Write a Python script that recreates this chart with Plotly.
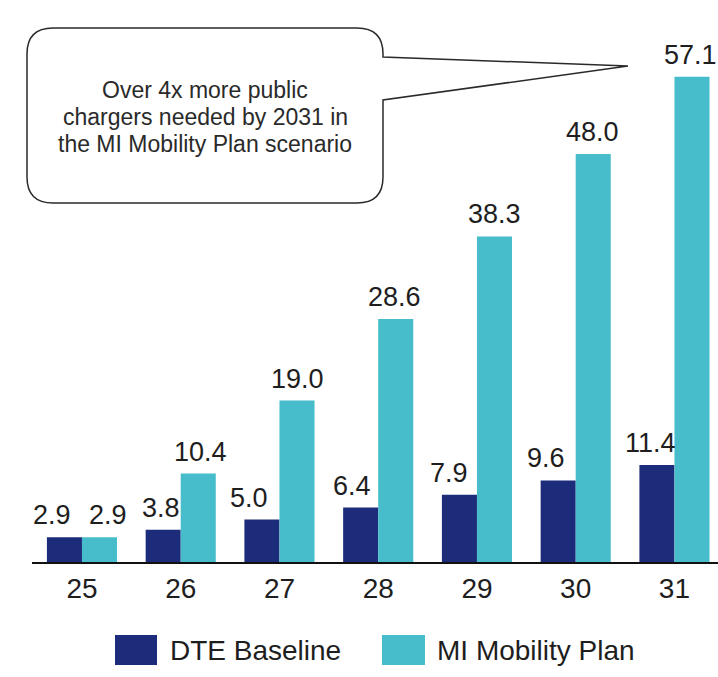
import plotly.graph_objects as go

# Public chargers needed (thousands) by year, two scenarios
years = ["25", "26", "27", "28", "29", "30", "31"]
dte_baseline = [2.9, 3.8, 5.0, 6.4, 7.9, 9.6, 11.4]
mi_mobility = [2.9, 10.4, 19.0, 28.6, 38.3, 48.0, 57.1]
series_names = ["DTE Baseline", "MI Mobility Plan"]
callout_lines = ["Over 4x more public",
                 "chargers needed by 2031 in",
                 "the MI Mobility Plan scenario"]

# styling
DARK = "#1d2c7a"
LIGHT = "#47bccb"
FONT = "Arial, Liberation Sans, sans-serif"
TEXT = "#1e1e1e"
W, H = 718, 677
ML, MR, MT, MB = 32, 0, 15, 115
BAR_W = 0.355
# small horizontal nudges (px) for value labels
dark_nudge = [-12, -2, -13, -9, -10, -12, -6]
light_nudge = [9, 2, 1, -1, 0, -1, -1]

plot_w = W - ML - MR
plot_h = H - MT - MB


def px(x):
    return (x - ML) / plot_w


def py(y):
    return (H - MB - y) / plot_h


xs = list(range(len(years)))

fig = go.Figure()
fig.add_trace(go.Bar(x=xs, y=dte_baseline, name=series_names[0],
                     marker=dict(color=DARK, line=dict(width=0)),
                     width=BAR_W, offset=-BAR_W, showlegend=False))
fig.add_trace(go.Bar(x=xs, y=mi_mobility, name=series_names[1],
                     marker=dict(color=LIGHT, line=dict(width=0)),
                     width=BAR_W, offset=0, showlegend=False))

annotations = []
for i, (a, b) in enumerate(zip(dte_baseline, mi_mobility)):
    annotations.append(dict(x=i - BAR_W / 2, y=a, xref="x", yref="y",
                            text=f"{a:.1f}", showarrow=False, yanchor="bottom",
                            yshift=5, xshift=dark_nudge[i],
                            font=dict(family=FONT, size=27, color=TEXT)))
    annotations.append(dict(x=i + BAR_W / 2, y=b, xref="x", yref="y",
                            text=f"{b:.1f}", showarrow=False, yanchor="bottom",
                            yshift=5, xshift=light_nudge[i],
                            font=dict(family=FONT, size=27, color=TEXT)))

# callout text
for k, line in enumerate(callout_lines):
    annotations.append(dict(x=px(205), y=py(90 + 27 * k), xref="paper", yref="paper",
                            text=line, showarrow=False, xanchor="center", yanchor="middle",
                            font=dict(family=FONT, size=23, color="#2a2a2a")))

# custom legend
legend_items = [(series_names[0], DARK, 115, 157, 168),
                (series_names[1], LIGHT, 382, 425, 435)]
shapes = []
for name, color, x0, x1, tx in legend_items:
    shapes.append(dict(type="rect", xref="paper", yref="paper",
                       x0=px(x0), x1=px(x1), y0=py(665), y1=py(635),
                       fillcolor=color, line=dict(width=0)))
    annotations.append(dict(x=px(tx), y=py(650), xref="paper", yref="paper",
                            text=name, showarrow=False, xanchor="left", yanchor="middle",
                            font=dict(family=FONT, size=28, color=TEXT)))

# speech-bubble callout
L, R, T, B, r = 27, 383, 28, 203, 26
p1, p2, tip = 57, 100, (628, 66)


def pt(x, y):
    return f"{px(x):.5f},{py(y):.5f}"


path = (f"M {pt(L + r, T)} L {pt(R - r, T)} Q {pt(R, T)} {pt(R, T + r)} "
        f"L {pt(R, p1)} L {pt(*tip)} L {pt(R, p2)} L {pt(R, B - r)} "
        f"Q {pt(R, B)} {pt(R - r, B)} L {pt(L + r, B)} Q {pt(L, B)} {pt(L, B - r)} "
        f"L {pt(L, T + r)} Q {pt(L, T)} {pt(L + r, T)} Z")
shapes.append(dict(type="path", xref="paper", yref="paper", path=path,
                   fillcolor="white", line=dict(color="#2a2a2a", width=1.5)))

fig.update_layout(
    width=W, height=H,
    margin=dict(l=ML, r=MR, t=MT, b=MB),
    paper_bgcolor="white", plot_bgcolor="white",
    barmode="overlay",
    showlegend=False,
    annotations=annotations,
    shapes=shapes,
    xaxis=dict(range=[-0.506, 6.441], tickmode="array", tickvals=xs, ticktext=years,
               showgrid=False, zeroline=False, showline=True, linecolor="#111",
               linewidth=2, ticks="",
               tickfont=dict(family=FONT, size=28, color=TEXT), fixedrange=True),
    yaxis=dict(range=[0, plot_h / 8.5], visible=False, fixedrange=True),
)

fig.write_html("out.html", config={"displayModeBar": False})
